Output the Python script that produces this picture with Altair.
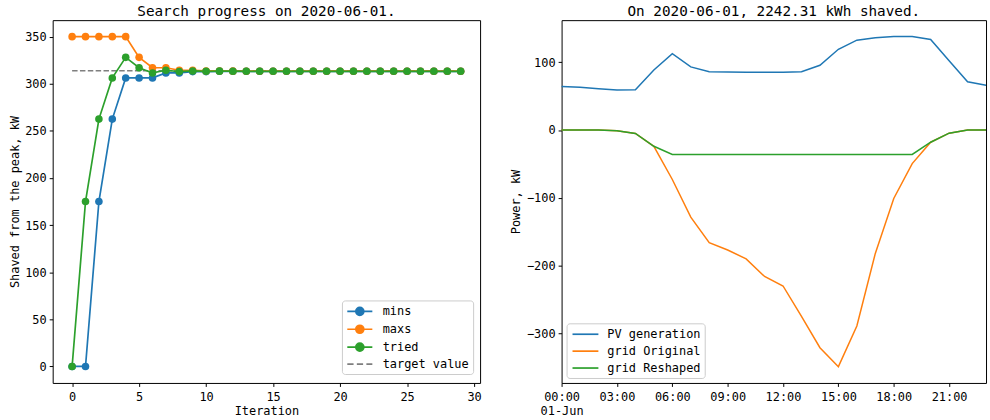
import altair as alt
import pandas as pd

FONT = "DejaVu Sans Mono"

# ---------------- left panel data ----------------
iterations = list(range(30))
mins = [0, 0, 175, 262.5, 306.2, 306.2, 306.2, 311.5, 311.5, 312.9,
        312.9, 313.2, 313.2, 313.2, 313.2, 313.2, 313.2, 313.2, 313.2, 313.2,
        313.2, 313.2, 313.2, 313.2, 313.2, 313.2, 313.2, 313.2, 313.2, 313.2]
maxs = [350, 350, 350, 350, 350, 328, 317, 317, 314.3, 314.3,
        313.6, 313.6, 313.4, 313.3, 313.3, 313.3, 313.3, 313.3, 313.3, 313.3,
        313.3, 313.3, 313.3, 313.3, 313.3, 313.3, 313.3, 313.3, 313.3, 313.3]
tried = [0, 175, 262.5, 306.2, 328, 317, 311.5, 314.3, 312.9, 313.6,
         313.2, 313.4, 313.3, 313.2, 313.2, 313.2, 313.2, 313.2, 313.2, 313.2,
         313.2, 313.2, 313.2, 313.2, 313.2, 313.2, 313.2, 313.2, 313.2, 313.2]
target_value = 313.8

series_left = ["mins", "maxs", "tried", "target value"]
colors_left = ["#1f77b4", "#ff7f0e", "#2ca02c", "#7f7f7f"]

# ---------------- right panel data ----------------
hours = list(range(24))
pv_generation = [64, 63, 61, 59, 59.5, 88.6, 112.5, 93, 86, 85.5, 85, 85,
                 85, 86, 95.4, 119, 132.5, 136, 138, 138, 133.5, 102, 71, 66]
grid_original = [0, 0, 0, -1, -5, -24, -73, -128.5, -166, -177, -190, -216,
                 -230, -275, -321, -349, -289, -182, -101, -49.5, -18, -4.7, 0, 0]
grid_reshaped = [0, 0, 0, -1, -5, -24, -36, -36, -36, -36, -36, -36,
                 -36, -36, -36, -36, -36, -36, -36, -36, -18, -4.7, 0, 0]

series_right = ["PV generation", "grid Original", "grid Reshaped"]
colors_right = ["#1f77b4", "#ff7f0e", "#2ca02c"]

# ---------------- tables ----------------
rows = []
for name, vals in (("mins", mins), ("maxs", maxs), ("tried", tried)):
    for it, v in zip(iterations, vals):
        rows.append({"Iteration": it, "value": v, "series": name})
df_left = pd.DataFrame(rows)
df_target = pd.DataFrame({
    "Iteration": [iterations[0], iterations[-1]],
    "value": [target_value, target_value],
    "series": ["target value", "target value"],
})

stamps = [f"2020-06-01T{h:02d}:00:00" for h in hours]
rows = []
for name, vals in zip(series_right, (pv_generation, grid_original, grid_reshaped)):
    for t, v in zip(stamps, vals):
        rows.append({"time": t, "value": v, "series": name})
df_right = pd.DataFrame(rows)

# ---------------- left chart ----------------
x_left = alt.X("Iteration:Q",
               scale=alt.Scale(domain=[-1.45, 30.45], nice=False, zero=False),
               axis=alt.Axis(values=list(range(0, 31, 5)), title="Iteration",
                             titlePadding=3, labelPadding=5))
y_left = alt.Y("value:Q",
               scale=alt.Scale(domain=[-17.5, 367.5], nice=False, zero=False),
               axis=alt.Axis(values=list(range(0, 351, 50)),
                             title="Shaved from the peak, kW", titlePadding=3))
color_left = alt.Color("series:N",
                       scale=alt.Scale(domain=series_left, range=colors_left),
                       legend=None)

LW = 1.7
target_layer = alt.Chart(df_target).mark_line(
    strokeDash=[5.5, 2.4], strokeWidth=LW
).encode(x=x_left, y=y_left, color=color_left)

layers = [target_layer]
for name in ["mins", "maxs", "tried"]:
    base = alt.Chart(df_left).transform_filter(alt.datum.series == name)
    layers.append(base.mark_line(strokeWidth=LW).encode(x=x_left, y=y_left, color=color_left))
    layers.append(base.mark_point(filled=True, size=58, opacity=1).encode(
        x=x_left, y=y_left, color=color_left))

marker_path = "M-2.1,0L2.1,0M-0.67,0A0.67,0.67,0,1,1,0.67,0A0.67,0.67,0,1,1,-0.67,0Z"
dash_path = "M-2.1,0L-1.05,0M-0.5,0L0.55,0M1.1,0L2.1,0"
shapes_left = [marker_path, marker_path, marker_path, dash_path]

legend_left = alt.Legend(
    title=None, orient="none", legendX=291, legendY=282, padding=4, rowPadding=2,
    symbolSize=144, symbolStrokeWidth=LW, symbolOpacity=1, symbolOffset=7,
    labelOffset=16, labelFont=FONT, labelFontSize=12, labelColor="#000",
    fillColor="rgba(255,255,255,0.8)", strokeColor="#cccccc", cornerRadius=3,
)
legend_layer = alt.Chart(df_left).mark_point(filled=True, opacity=0).encode(
    x=x_left, y=y_left,
    fill=alt.Fill("series:N", scale=alt.Scale(domain=series_left, range=colors_left),
                  legend=legend_left),
    stroke=alt.Stroke("series:N", scale=alt.Scale(domain=series_left, range=colors_left),
                      legend=legend_left),
    shape=alt.Shape("series:N", scale=alt.Scale(domain=series_left, range=shapes_left),
                    legend=legend_left),
)
layers.append(legend_layer)

left = alt.layer(*layers).properties(
    width=430, height=365,
    title=alt.TitleParams("Search progress on 2020-06-01."),
)

# ---------------- right chart ----------------
def dt(h):
    return alt.DateTime(year=2020, month=6, date=1, hours=h)

legend_right = alt.Legend(
    title=None, orient="bottom-left", offset=5, padding=4, rowPadding=4,
    symbolType="M-2.17,0L2.17,0", symbolSize=144, symbolStrokeWidth=LW,
    symbolOffset=8, labelOffset=15, labelFont=FONT, labelFontSize=12,
    labelColor="#000", fillColor="rgba(255,255,255,0.8)",
    strokeColor="#cccccc", cornerRadius=3,
)

right = alt.Chart(df_right).mark_line(strokeWidth=1.5).encode(
    x=alt.X("time:T",
            scale=alt.Scale(domain=[dt(hours[0]), dt(hours[-1])], nice=False),
            axis=alt.Axis(values=[dt(h) for h in range(0, 24, 3)], title=None,
                          labelLineHeight=14, labelPadding=5,
                          labelExpr="hours(datum.value) == 0 ? ['00:00', '01-Jun'] : timeFormat(datum.value, '%H:%M')")),
    y=alt.Y("value:Q",
            scale=alt.Scale(domain=[-373, 162], nice=False, zero=False),
            axis=alt.Axis(values=[-300, -200, -100, 0, 100], title="Power, kW",
                          titlePadding=4)),
    color=alt.Color("series:N",
                    scale=alt.Scale(domain=series_right, range=colors_right),
                    legend=legend_right),
).properties(
    width=427, height=365,
    title=alt.TitleParams("On 2020-06-01, 2242.31 kWh shaved."),
)

chart = alt.hconcat(left, right, spacing=27).resolve_scale(
    color="independent",
).resolve_legend(
    color="independent",
).properties(
    padding={"left": 8, "top": 2, "right": 0, "bottom": 0}
).configure(font=FONT).configure_view(
    stroke="#000", strokeWidth=1
).configure_axis(
    labelFont=FONT, labelFontSize=12, labelColor="#000",
    titleFont=FONT, titleFontSize=12, titleFontWeight="normal", titleColor="#000",
    tickColor="#000", tickSize=3.5, tickWidth=1, labelPadding=3,
    grid=False, domain=False, labelFlush=False, labelOverlap=False,
).configure_title(
    font=FONT, fontSize=14.4, fontWeight="normal", color="#000",
    anchor="middle", offset=1, baseline="alphabetic",
)

chart.save("out.html", embed_options={"renderer": "svg", "actions": False})
